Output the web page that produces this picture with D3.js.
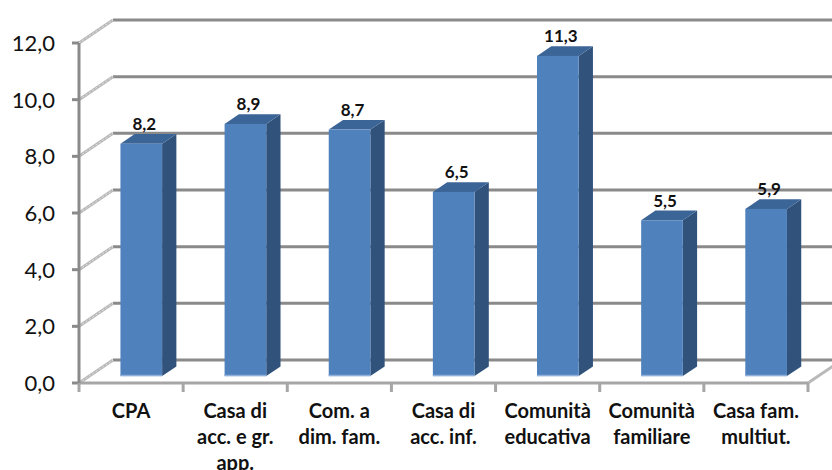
<!DOCTYPE html>
<html>
<head>
<meta charset="utf-8">
<script src="https://cdn.jsdelivr.net/npm/d3@7"></script>
<style>
  html, body { margin: 0; padding: 0; background: #fff; }
  svg { display: block; }
</style>
</head>
<body>
<svg id="chart" width="832" height="470"></svg>
<script>
// Categories (line breaks mark the wrapped label lines)
const categories = [
  "CPA",
  "Casa di\nacc. e gr.\napp.",
  "Com. a\ndim. fam.",
  "Casa di\nacc. inf.",
  "Comunità\neducativa",
  "Comunità\nfamiliare",
  "Casa fam.\nmultiut."
];
const values = [8.2, 8.9, 8.7, 6.5, 11.3, 5.5, 5.9];
const yTicks = [0, 2, 4, 6, 8, 10, 12];

const it = d3.formatLocale({ decimal: ",", thousands: ".", grouping: [3], currency: ["€", ""] });
const fmt = it.format(".1f");

const svg = d3.select("#chart");
const W = 832, H = 470;

// Front floor edge / front value axis
const x = d3.scaleBand().domain(categories).range([79, 808]).paddingInner(0).paddingOuter(0);
const y = d3.scaleLinear().domain([0, 12]).range([383, 43]);

// Depth vector from the front plane to the back wall
const DX = 34, DY = -23;
// Bar front and back faces as fractions of the depth
const F0 = 0.30, F1 = 0.72;
const barW = x.bandwidth() / 2.5;

const gridCol = "#8a8a8a";
const sideCol = "#b9b9b9";

// Back wall gridlines
svg.append("g").selectAll("line").data(yTicks).join("line")
  .attr("x1", 79 + DX).attr("x2", W)
  .attr("y1", d => y(d) + DY).attr("y2", d => y(d) + DY)
  .attr("stroke", gridCol).attr("stroke-width", 3);

// Side wall diagonals
svg.append("g").selectAll("line").data(yTicks).join("line")
  .attr("x1", 79).attr("y1", d => y(d))
  .attr("x2", 79 + DX).attr("y2", d => y(d) + DY)
  .attr("stroke", sideCol).attr("stroke-width", 3);
svg.append("g").selectAll("line").data(yTicks).join("line")
  .attr("x1", 79).attr("y1", d => y(d))
  .attr("x2", 79 + DX).attr("y2", d => y(d) + DY)
  .attr("stroke", "#e4e4e4").attr("stroke-width", 1).attr("stroke-dasharray", "2,2");

// Floor right edge
svg.append("line")
  .attr("x1", x.range()[1]).attr("y1", y(0))
  .attr("x2", x.range()[1] + DX).attr("y2", y(0) + DY)
  .attr("stroke", sideCol).attr("stroke-width", 3);

// Floor front edge and vertical axis
svg.append("line")
  .attr("x1", 79).attr("x2", x.range()[1])
  .attr("y1", y(0)).attr("y2", y(0))
  .attr("stroke", "#a6a6a6").attr("stroke-width", 3);
svg.append("line")
  .attr("x1", 79).attr("x2", 79)
  .attr("y1", y(12)).attr("y2", y(0))
  .attr("stroke", gridCol).attr("stroke-width", 3);

// Value axis ticks and labels
svg.append("g").selectAll("line").data(yTicks).join("line")
  .attr("x1", 72).attr("x2", 79)
  .attr("y1", d => y(d)).attr("y2", d => y(d))
  .attr("stroke", gridCol).attr("stroke-width", 3);
svg.append("g").selectAll("text").data(yTicks).join("text")
  .attr("x", 55).attr("y", d => y(d))
  .attr("dy", "0.36em")
  .attr("text-anchor", "end")
  .attr("font-family", "Lato, 'Open Sans', sans-serif")
  .attr("font-size", 22)
  .attr("fill", "#111")
  .text(d => fmt(d));

// Category ticks
const bounds = categories.map(c => x(c)).concat([x.range()[1]]);
svg.append("g").selectAll("line").data(bounds).join("line")
  .attr("x1", d => d).attr("x2", d => d)
  .attr("y1", y(0)).attr("y2", y(0) + 9)
  .attr("stroke", "#a6a6a6").attr("stroke-width", 3);

// Category labels
const catG = svg.append("g")
  .attr("font-family", "Lato, 'Open Sans', sans-serif")
  .attr("font-size", 20)
  .attr("font-weight", 700)
  .attr("fill", "#111")
  .attr("text-anchor", "middle");
categories.forEach(c => {
  const t = catG.append("text").attr("x", x(c) + x.bandwidth() / 2).attr("y", 418);
  c.split("\n").forEach((line, i) => {
    t.append("tspan").attr("x", x(c) + x.bandwidth() / 2).attr("dy", i === 0 ? 0 : 26).text(line);
  });
});

// 3D bars
const data = categories.map((c, i) => ({ c, v: values[i] }));
const bars = svg.append("g").selectAll("g").data(data).join("g");
const fx = d => x(d.c) + x.bandwidth() / 2 - barW / 2 + DX * F0;
const fy0 = () => y(0) + DY * F0;
const fy1 = d => y(d.v) + DY * F0;
const ddx = DX * (F1 - F0), ddy = DY * (F1 - F0);

// side face
bars.append("path")
  .attr("d", d => {
    const x1 = fx(d) + barW;
    return `M${x1},${fy1(d)} L${x1 + ddx},${fy1(d) + ddy} L${x1 + ddx},${fy0() + ddy} L${x1},${fy0()} Z`;
  })
  .attr("fill", "#31527b");
// top face
bars.append("path")
  .attr("d", d => {
    const x0 = fx(d), x1 = fx(d) + barW, yt = fy1(d);
    return `M${x0},${yt} L${x0 + ddx},${yt + ddy} L${x1 + ddx},${yt + ddy} L${x1},${yt} Z`;
  })
  .attr("fill", "#3c6597");
// front face
bars.append("rect")
  .attr("x", fx)
  .attr("y", fy1)
  .attr("width", barW)
  .attr("height", d => fy0() - fy1(d))
  .attr("fill", "#4f81bd");
// light bottom edge
bars.append("line")
  .attr("x1", fx).attr("x2", d => fx(d) + barW)
  .attr("y1", fy0() - 0.5).attr("y2", fy0() - 0.5)
  .attr("stroke", "#8fb0da").attr("stroke-width", 1.5);

// Value labels
bars.append("text")
  .attr("x", d => fx(d) + barW / 2 + 3)
  .attr("y", d => fy1(d) + ddy - 4)
  .attr("text-anchor", "middle")
  .attr("font-family", "Lato, 'Open Sans', sans-serif")
  .attr("font-size", 17)
  .attr("font-weight", 700)
  .attr("fill", "#111")
  .text(d => fmt(d.v));
</script>
</body>
</html>
